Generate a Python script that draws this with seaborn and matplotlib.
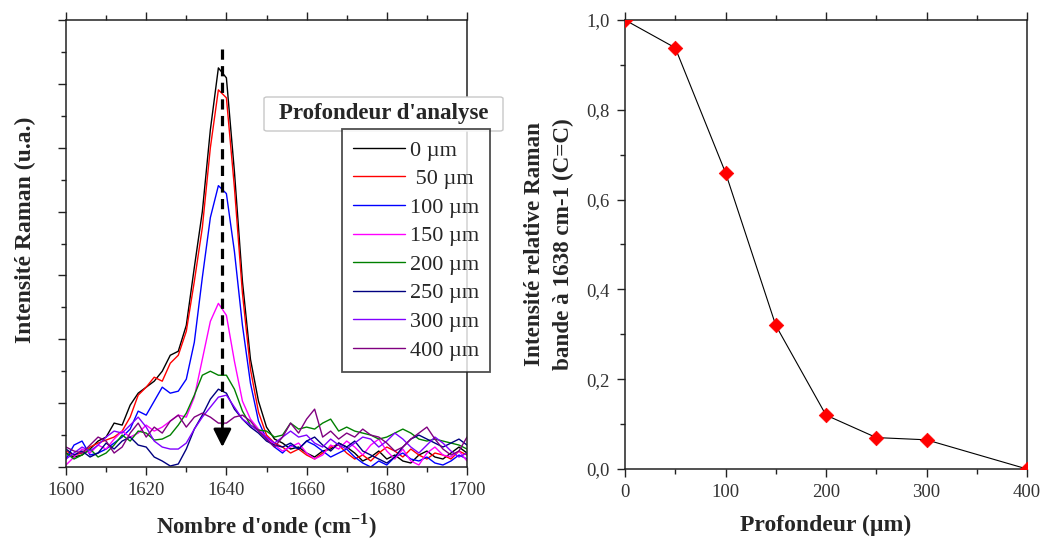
import matplotlib
matplotlib.use("Agg")
import matplotlib.pyplot as plt
import numpy as np
import pandas as pd
import seaborn as sns
from matplotlib.ticker import MultipleLocator, FuncFormatter
from matplotlib.patches import FancyBboxPatch

# ---------------- data ----------------
wavenumber = list(range(1600, 1701, 2))

depth_labels = ["0 µm", " 50 µm", "100 µm", "150 µm", "200 µm", "250 µm", "300 µm", "400 µm"]

spec_0 = [14, 10, 12, 18, 26, 30, 44, 42, 62, 74, 80, 86, 96, 112, 116, 142, 200, 256, 338, 400,
          390, 296, 186, 108, 66, 40, 28, 24, 18, 20, 14, 10, 16, 18, 24, 20, 14, 6, 10, 16,
          8, 12, 6, 4, 12, 16, 10, 8, 14, 20, 14]
spec_50 = [16, 12, 14, 20, 24, 27, 30, 36, 50, 72, 80, 90, 86, 104, 112, 136, 186, 240, 320, 378,
           370, 280, 174, 98, 55, 32, 24, 20, 14, 18, 12, 8, 14, 20, 22, 14, 8, 12, 6, 14,
           20, 16, 10, 18, 12, 8, 14, 12, 8, 16, 12]
spec_100 = [8, 22, 26, 12, 14, 18, 24, 30, 38, 56, 52, 66, 80, 74, 76, 88, 125, 190, 250, 282,
            274, 216, 142, 84, 46, 28, 20, 14, 22, 18, 26, 22, 16, 10, 14, 18, 10, 4, 0, 6,
            2, 10, 14, 8, 6, 10, 4, 2, 6, 12, 8]
spec_150 = [2, 10, 18, 14, 22, 18, 28, 36, 30, 34, 42, 36, 40, 46, 52, 50, 70, 108, 146, 164,
            152, 106, 66, 48, 38, 30, 22, 16, 20, 24, 14, 8, 12, 22, 18, 26, 20, 12, 22, 28,
            16, 8, 18, 6, 2, 14, 20, 12, 10, 16, 6]
spec_200 = [14, 8, 12, 18, 10, 14, 22, 32, 26, 36, 34, 27, 28, 32, 42, 54, 72, 92, 96, 92,
            92, 78, 56, 42, 37, 36, 30, 32, 44, 38, 40, 38, 44, 48, 36, 40, 36, 34, 32, 28,
            30, 34, 38, 34, 28, 26, 28, 26, 24, 22, 18]
spec_250 = [18, 12, 16, 10, 14, 24, 18, 26, 30, 22, 20, 10, 6, 1, 3, 18, 38, 52, 68, 78,
            74, 58, 48, 40, 34, 26, 22, 20, 24, 18, 26, 30, 22, 16, 24, 20, 26, 16, 12, 8,
            4, 10, 20, 28, 32, 28, 24, 20, 24, 28, 22]
spec_300 = [8, 14, 20, 16, 22, 30, 36, 34, 42, 50, 40, 26, 20, 18, 18, 24, 38, 50, 60, 70,
            72, 60, 48, 42, 36, 30, 24, 30, 36, 30, 32, 24, 20, 28, 22, 18, 24, 30, 28, 20,
            26, 34, 28, 20, 14, 22, 30, 24, 16, 10, 14]
spec_400 = [20, 16, 14, 22, 30, 26, 14, 20, 34, 44, 30, 40, 34, 46, 52, 40, 50, 54, 50, 44,
            44, 50, 52, 46, 36, 28, 20, 30, 44, 34, 48, 58, 30, 36, 28, 34, 30, 38, 32, 30,
            24, 16, 20, 28, 34, 40, 28, 18, 12, 16, 30]

spectra = [spec_0, spec_50, spec_100, spec_150, spec_200, spec_250, spec_300, spec_400]
line_colors = ["#000000", "#ff0000", "#0000ff", "#ff00ff", "#008000", "#000080", "#8000ff", "#800080"]

depth_um = [0, 50, 100, 150, 200, 250, 300, 400]
rel_intensity = [1.0, 0.938, 0.66, 0.32, 0.12, 0.07, 0.065, 0.0]

peak_position = 1639

# ---------------- style ----------------
sns.set_theme(style="ticks")
plt.rcParams["font.family"] = ["Liberation Serif", "DejaVu Serif"]
plt.rcParams["mathtext.fontset"] = "custom"
plt.rcParams["mathtext.rm"] = "Liberation Serif"
plt.rcParams["mathtext.bf"] = "Liberation Serif:bold"
plt.rcParams["axes.edgecolor"] = "#222222"
plt.rcParams["axes.linewidth"] = 1.1

W, H = 1044, 542
fig = plt.figure(figsize=(W / 100, H / 100), dpi=100)
fig.patch.set_facecolor("white")

def fig_rect(x0, y0, x1, y1):
    return [x0 / W, 1 - y1 / H, (x1 - x0) / W, (y1 - y0) / H]

ax1 = fig.add_axes(fig_rect(66, 20, 467, 467))
ax2 = fig.add_axes(fig_rect(625, 20, 1027, 469))

# ---------------- left panel ----------------
rows = []
for lab, vals in zip(depth_labels, spectra):
    for w, v in zip(wavenumber, vals):
        rows.append({"wn": w, "I": v, "depth": lab})
df = pd.DataFrame(rows)
pal = dict(zip(depth_labels, line_colors))
sns.lineplot(data=df, x="wn", y="I", hue="depth", hue_order=depth_labels, palette=pal,
             estimator=None, sort=False, linewidth=1.0, ax=ax1, legend=True)
handles, labels = ax1.get_legend_handles_labels()
if ax1.get_legend() is not None:
    ax1.get_legend().remove()

ax1.set_xlim(1600, 1700)
ax1.set_ylim(0, 448)
ax1.xaxis.set_major_locator(MultipleLocator(20))
ax1.xaxis.set_minor_locator(MultipleLocator(10))
ax1.yaxis.set_major_locator(MultipleLocator(64))
ax1.yaxis.set_minor_locator(MultipleLocator(32))
ax1.tick_params(axis="x", which="both", direction="out", bottom=True, top=True,
                labelsize=13.5, labelcolor="#333333", pad=5, color="#222222")
ax1.tick_params(axis="y", which="both", direction="out", left=True, right=False,
                labelleft=False, color="#222222")
ax1.tick_params(which="major", length=6, width=1)
ax1.tick_params(which="minor", length=3.5, width=1)
ax1.set_xlabel(r"Nombre d'onde (cm$^{\mathbf{-1}}$)", fontsize=16.5, fontweight="bold", labelpad=9)
ax1.set_ylabel("Intensité Raman (u.a.)", fontsize=17, fontweight="bold")
ax1.yaxis.set_label_coords(-0.075, 0.53)

# dashed arrow
ax1.plot([peak_position, peak_position], [419, 40], color="black", lw=2.3,
         linestyle=(0, (3.2, 2.0)), zorder=5)
ax1.annotate("", xy=(peak_position, 20), xytext=(peak_position, 42),
             arrowprops=dict(arrowstyle="-|>,head_length=0.9,head_width=0.45",
                             lw=2, color="black", shrinkA=0, shrinkB=0), zorder=6)

# legend title box
title_box = FancyBboxPatch((264 / W, 1 - 131 / H), (503 - 264) / W, 34 / H,
                           boxstyle="round,pad=0,rounding_size=0.003",
                           transform=fig.transFigure, facecolor="white",
                           edgecolor="#c8c8c8", lw=1.0, zorder=3)
fig.patches.append(title_box)
fig.text(383.5 / W, 1 - 113 / H, "Profondeur d'analyse", ha="center", va="center",
         fontsize=16.5, fontweight="bold", zorder=4)

leg = fig.legend(handles, labels, loc="upper left", bbox_to_anchor=(342 / W, 1 - 129 / H),
                 bbox_transform=fig.transFigure, borderaxespad=0, frameon=True,
                 fancybox=False, fontsize=16, handlelength=2.35, handletextpad=0.22,
                 labelspacing=0.36, borderpad=0.5)
leg.get_frame().set_edgecolor("#222222")
leg.get_frame().set_linewidth(1.3)
leg.set_zorder(5)

# ---------------- right panel ----------------
df2 = pd.DataFrame({"depth": depth_um, "rel": rel_intensity})
sns.lineplot(data=df2, x="depth", y="rel", ax=ax2, color="black", linewidth=0.8,
             estimator=None, sort=False)
sns.scatterplot(data=df2, x="depth", y="rel", ax=ax2, marker="D", s=55, color="#ff0000",
                edgecolor="#ff0000", linewidth=0.5, zorder=3)
ax2.set_xlim(0, 400)
ax2.set_ylim(0, 1.0)
ax2.xaxis.set_major_locator(MultipleLocator(100))
ax2.xaxis.set_minor_locator(MultipleLocator(50))
ax2.yaxis.set_major_locator(MultipleLocator(0.2))
ax2.yaxis.set_minor_locator(MultipleLocator(0.1))
ax2.yaxis.set_major_formatter(FuncFormatter(lambda v, p: f"{v:.1f}".replace(".", ",")))
ax2.tick_params(axis="x", which="both", direction="out", bottom=True, top=True, color="#222222")
ax2.tick_params(axis="y", which="both", direction="out", left=True, right=False, color="#222222")
ax2.tick_params(which="both", labelsize=13.5, labelcolor="#333333", pad=5)
ax2.tick_params(which="major", length=6, width=1)
ax2.tick_params(which="minor", length=3.5, width=1)
ax2.set_xlabel("Profondeur (µm)", fontsize=17, fontweight="bold", labelpad=10)
ax2.set_ylabel("Intensité relative Raman\nbande à 1638 cm-1 (C=C)", fontsize=16.7,
               fontweight="bold", linespacing=1.45)
ax2.yaxis.set_label_coords(-0.128, 0.5)

fig.savefig("out.png", dpi=100, facecolor="white")
